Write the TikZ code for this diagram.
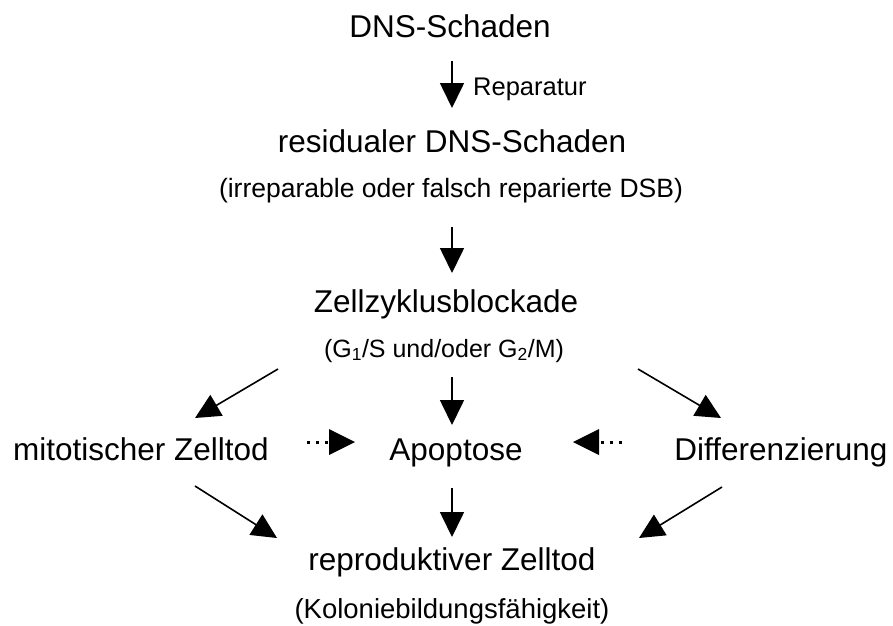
\documentclass[tikz,border=0pt]{standalone}
\usepackage{fontspec}
\setmainfont{Liberation Sans}
\usetikzlibrary{arrows.meta}
\tikzset{
  big/.style={font=\fontsize{31.5}{36}\selectfont, anchor=base, inner sep=0pt},
  small/.style={font=\fontsize{26.5}{30}\selectfont, anchor=base, inner sep=0pt},
  arr/.style={line width=1.6pt, -{Triangle[length=25pt,width=24pt]}},
  dotarr/.style={line width=3pt, dash pattern=on 3pt off 6pt,
    -{Triangle[length=26pt,width=26pt,line width=0pt]}}
}
\begin{document}
\begin{tikzpicture}[x=1pt,y=-1pt]
\useasboundingbox (0,0) rectangle (893,625);
% texts
\node[big] (dns) at (450,37) {DNS-Schaden};
\node[small,anchor=base west,font=\fontsize{25.5}{30}\selectfont] (rep) at (473,95) {Reparatur};
\node[big] (res) at (452,152) {residualer DNS-Schaden};
\node[small] (irr) at (451,197) {(irreparable oder falsch reparierte DSB)};
\node[big] (zell) at (446,312) {Zellzyklusblockade};
\node[small,font=\fontsize{25}{30}\selectfont] (g) at (444,357) {(G\textsubscript{1}/S und/oder G\textsubscript{2}/M)};
\node[big] (mit) at (141,460) {mitotischer Zelltod};
\node[big] (apo) at (456,460) {Apoptose};
\node[big] (dif) at (781,460) {Differenzierung};
\node[big] (repro) at (452,570) {reproduktiver Zelltod};
\node[small,font=\fontsize{27.5}{30}\selectfont] (kol) at (452,618) {(Koloniebildungsfähigkeit)};
% connector end points
\coordinate (a1s) at (452,61);  \coordinate (a1e) at (452,108);
\coordinate (a2s) at (452,227); \coordinate (a2e) at (452,273);
\coordinate (a3s) at (452,377); \coordinate (a3e) at (452,425);
\coordinate (a4s) at (452,488); \coordinate (a4e) at (452,537);
\coordinate (dls) at (278,369); \coordinate (dle) at (195,418);
\coordinate (drs) at (638,369); \coordinate (dre) at (721,418);
\coordinate (bls) at (195,486); \coordinate (ble) at (277,538);
\coordinate (brs) at (722,487); \coordinate (bre) at (639,538);
\coordinate (mls) at (307,442); \coordinate (mle) at (355,442);
\coordinate (mrs) at (622,442); \coordinate (mre) at (573,442);
% connectors
\draw[arr] (a1s) -- (a1e);
\draw[arr] (a2s) -- (a2e);
\draw[arr] (a3s) -- (a3e);
\draw[arr] (a4s) -- (a4e);
\draw[arr] (dls) -- (dle);
\draw[arr] (drs) -- (dre);
\draw[arr] (bls) -- (ble);
\draw[arr] (brs) -- (bre);
\draw[dotarr] (mls) -- (mle);
\draw[dotarr] (mrs) -- (mre);
\end{tikzpicture}
\end{document}
